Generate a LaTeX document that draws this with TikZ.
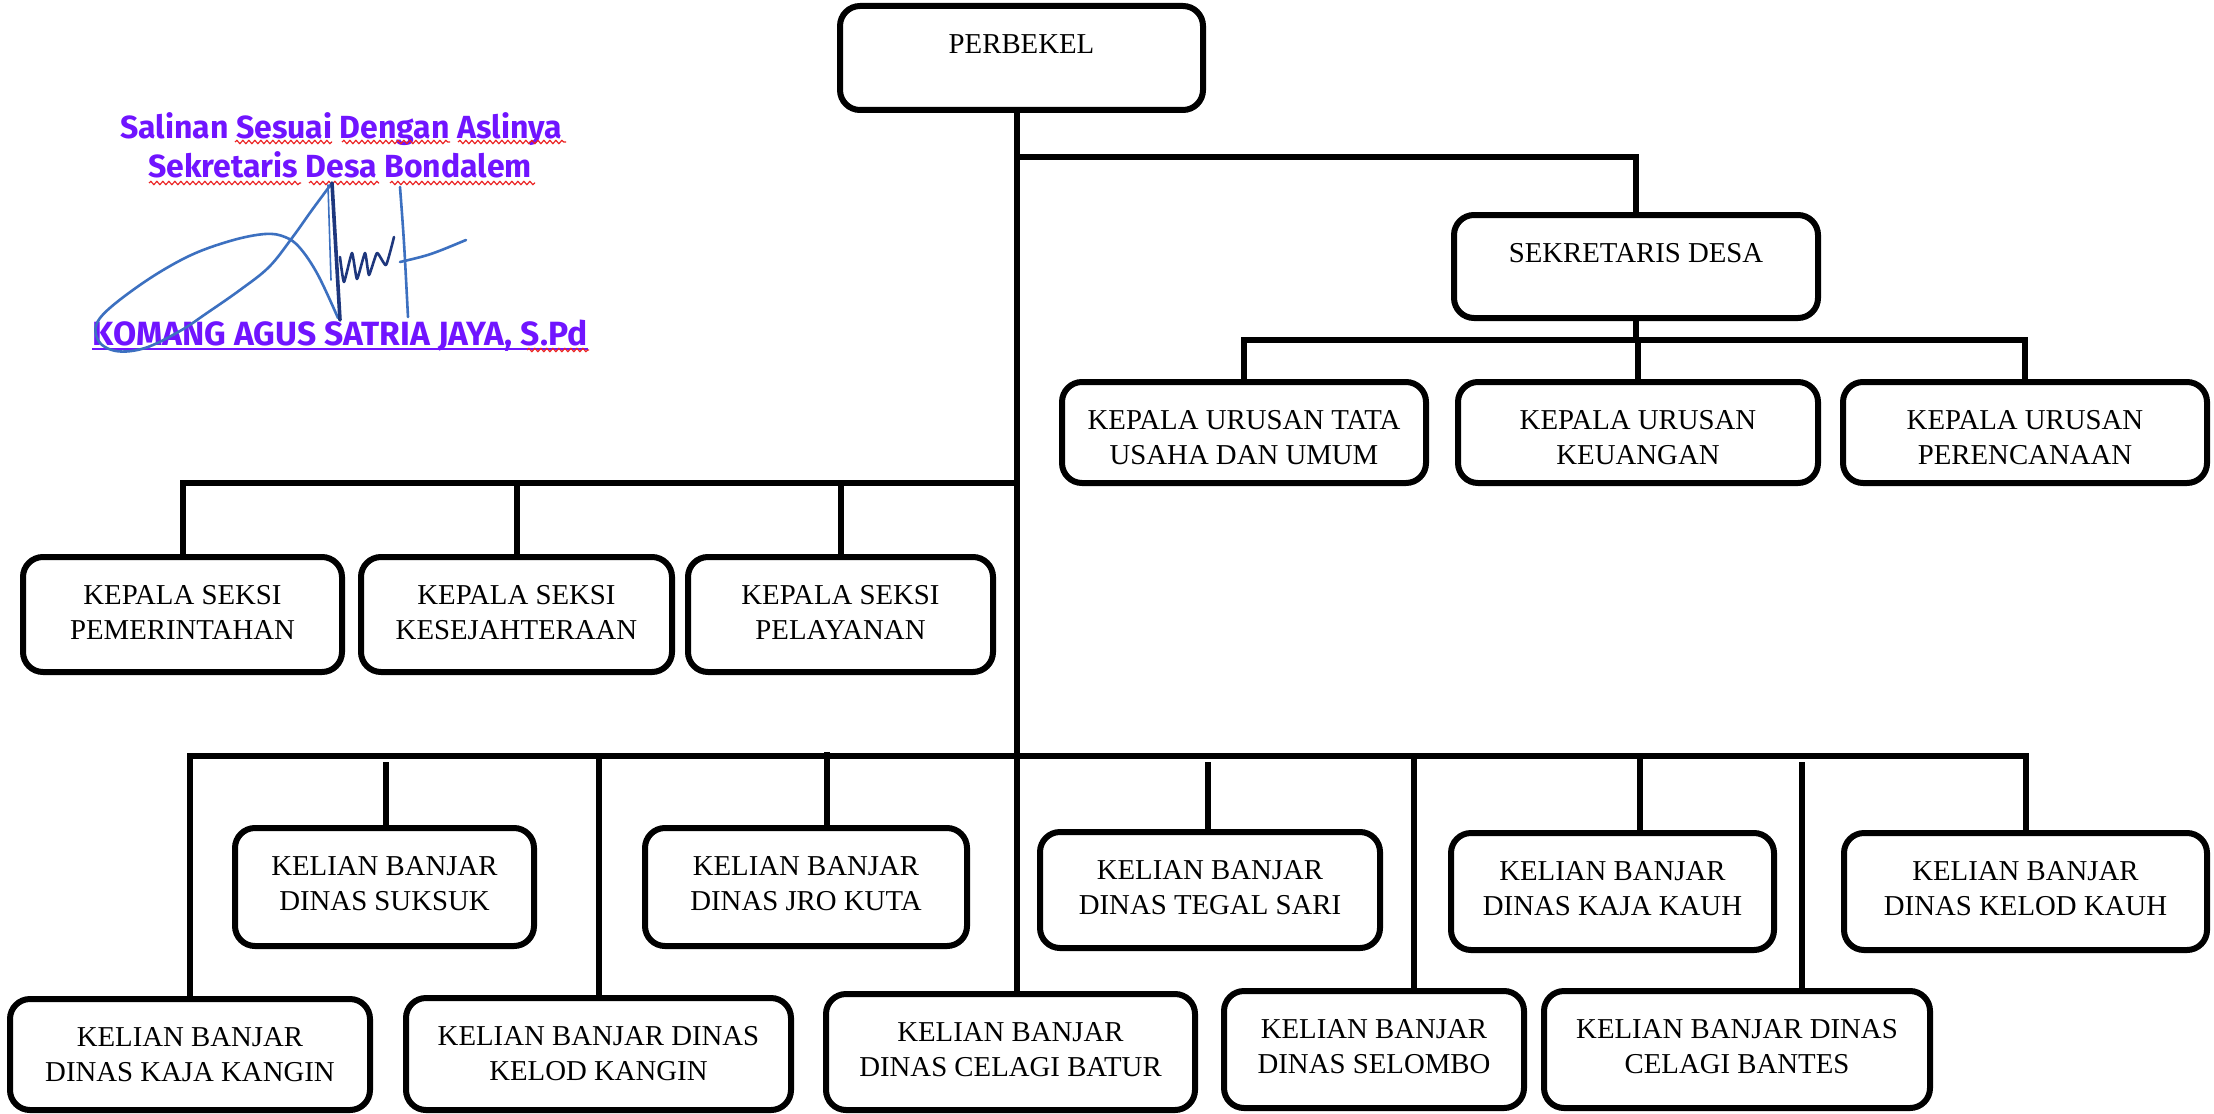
\documentclass[tikz,border=0pt]{standalone}
\usepackage{fontspec}
\setmainfont{Liberation Serif}
\newfontfamily\stampfont{Fira Sans}
\usetikzlibrary{fit,decorations.pathmorphing}
\definecolor{stampc}{RGB}{112,20,255}
\definecolor{sigblue}{RGB}{60,112,192}
\definecolor{sigdark}{RGB}{30,55,125}
\definecolor{squigc}{RGB}{235,35,35}
\tikzset{
  orgbox/.style={draw=black, line width=3pt, rounded corners=10pt, inner sep=0pt, fill=white},
  orgtxt/.style={inner sep=0pt, align=center, font=\fontsize{14.4pt}{17.3pt}\selectfont},
  conn/.style={draw=black, line width=3pt},
  stamptxt/.style={inner sep=0pt, text=stampc, font=\stampfont\bfseries\fontsize{16pt}{19pt}\selectfont},
  squig/.style={draw=squigc, line width=0.6pt, decorate, decoration={snake, amplitude=0.8pt, segment length=3pt}},
  sig/.style={draw=sigblue, line width=1.3pt, line cap=round, line join=round},
}
\newcommand\orgbox[6]{%
  \node[orgbox, fit={(#2,#3) (#4,#5)}] (#1) {};
  \node[orgtxt, anchor=north] (#1-t) at ([yshift=-15pt]#1.north) {\rule{0pt}{10pt}#6};
}
\begin{document}
\begin{tikzpicture}[x=0.5pt,y=-0.5pt]
\fill[white] (0,0) rectangle (2214,1113);
\useasboundingbox (0,0) rectangle (2214,1113);

% ---------- trunk coordinates ----------
\coordinate (T0) at (1017,110);
\coordinate (T1) at (1017,157);
\coordinate (T2) at (1017,483);
\coordinate (T3) at (1017,756);
\coordinate (U) at (1636,340);

% ---------- boxes ----------
\orgbox{perbekel}{840}{6}{1203}{110}{PERBEKEL}
\orgbox{sekdes}{1454}{215}{1818}{318}{SEKRETARIS DESA}
\orgbox{urA}{1062}{382}{1426}{483}{KEPALA URUSAN TATA\\USAHA DAN UMUM}
\orgbox{urB}{1458}{382}{1818}{483}{KEPALA URUSAN\\KEUANGAN}
\orgbox{urC}{1843}{382}{2207}{483}{KEPALA URUSAN\\PERENCANAAN}
\orgbox{sA}{23}{557}{342}{672}{KEPALA SEKSI\\PEMERINTAHAN}
\orgbox{sB}{361}{557}{672}{672}{KEPALA SEKSI\\KESEJAHTERAAN}
\orgbox{sC}{688}{557}{993}{672}{KEPALA SEKSI\\PELAYANAN}
\orgbox{suksuk}{235}{828}{534}{946}{KELIAN BANJAR\\DINAS SUKSUK}
\orgbox{jrokuta}{645}{828}{967}{946}{KELIAN BANJAR\\DINAS JRO KUTA}
\orgbox{tegal}{1040}{832}{1380}{948}{KELIAN BANJAR\\DINAS TEGAL SARI}
\orgbox{kajakauh}{1451}{833}{1774}{950}{KELIAN BANJAR\\DINAS KAJA KAUH}
\orgbox{kelodkauh}{1844}{833}{2207}{950}{KELIAN BANJAR\\DINAS KELOD KAUH}
\orgbox{kajakangin}{10}{999}{370}{1110}{KELIAN BANJAR\\DINAS KAJA KANGIN}
\orgbox{kelodkangin}{406}{998}{791}{1110}{KELIAN BANJAR DINAS\\KELOD KANGIN}
\orgbox{batur}{826}{994}{1195}{1110}{KELIAN BANJAR\\DINAS CELAGI BATUR}
\orgbox{selombo}{1224}{991}{1524}{1108}{KELIAN BANJAR\\DINAS SELOMBO}
\orgbox{bantes}{1544}{991}{1930}{1108}{KELIAN BANJAR DINAS\\CELAGI BANTES}

% ---------- connectors ----------
\draw[conn] (perbekel.south -| T0) -- (batur.north -| T0);
\draw[conn] (T1) -| (sekdes.north);
\draw[conn] (sekdes.south) -- (sekdes.south |- U);
\draw[conn] (urA.north) |- (U) -| (urC.north);
\draw[conn] (urB.north) -- (urB.north |- U);
\draw[conn] (sA.north) |- (T2);
\draw[conn] (sB.north) -- (sB.north |- T2);
\draw[conn] (sC.north) -- (sC.north |- T2);
\draw[conn] (kajakangin.north) |- (T3) -| (kelodkauh.north);
\draw[conn] (kelodkangin.north) -- (kelodkangin.north |- T3);
\coordinate (tapSuk) at (386,762);
\coordinate (tapJro) at (827,752);
\coordinate (tapTeg) at (1208,762);
\coordinate (tapSel) at (1414,756);
\coordinate (tapKjk) at (1640,756);
\coordinate (tapBan) at (1802,762);
\draw[conn] (tapSuk) -- (tapSuk |- suksuk.north);
\draw[conn] (tapJro) -- (tapJro |- jrokuta.north);
\draw[conn] (tapTeg) -- (tapTeg |- tegal.north);
\draw[conn] (tapSel) -- (tapSel |- selombo.north);
\draw[conn] (tapKjk) -- (tapKjk |- kajakauh.north);
\draw[conn] (tapBan) -- (tapBan |- bantes.north);

% ---------- stamp ----------
\node[stamptxt, anchor=base] (st1) at (341,138) {Salinan Sesuai Dengan Aslinya};
\node[stamptxt, anchor=base] (st2) at (340,177) {Sekretaris Desa Bondalem};
\node[stamptxt, anchor=base, font=\stampfont\bfseries\fontsize{16.8pt}{19pt}\selectfont] (st3) at (340,345) {KOMANG AGUS SATRIA JAYA, S.Pd};
\draw[stampc, line width=1pt] ([yshift=-1.8pt]st3.base west) -- ([yshift=-1.8pt]st3.base east);
\draw[squig] (235,142) -- (332,142);
\draw[squig] (342,142) -- (450,142);
\draw[squig] (458,142) -- (566,142);
\draw[squig] (149,183) -- (301,183);
\draw[squig] (309,183) -- (379,183);
\draw[squig] (390,183) -- (535,183);
\draw[squig] (527,350) -- (589,350);

% ---------- signature ----------
\draw[sig] plot[smooth, tension=0.6] coordinates {(338,318) (318,275) (300,248) (285,237) (265,234) (230,241) (187,257) (140,285) (100,318) (98,340) (116,351) (145,348) (180,331) (207,313) (240,290) (269,267) (292,238) (312,210) (332,183)};
\draw[sig, draw=sigdark, line width=1.8pt] (332,183) -- (340,320);
\draw[sig, line width=0.8pt] (328,185) -- (331,280);
\draw[sig, draw=sigdark] plot[smooth, tension=0.3] coordinates {(340,257) (344,282) (352,253) (357,279) (365,253) (369,275) (377,253) (386,265) (394,237)};
\draw[sig] (400,187) .. controls (404,240) .. (408,317);
\draw[sig] (400,262) .. controls (430,255) .. (466,240);
\end{tikzpicture}
\end{document}
